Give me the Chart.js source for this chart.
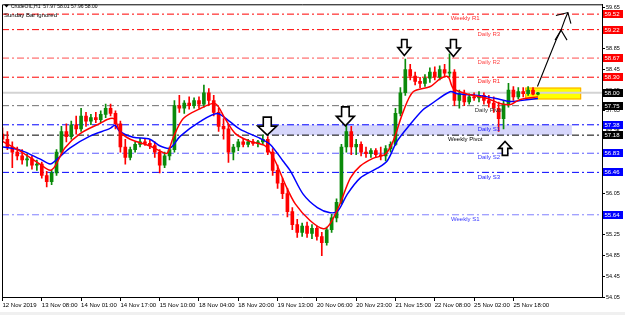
<!DOCTYPE html>
<html>
<head>
<meta charset="utf-8">
<script src="https://cdn.jsdelivr.net/npm/chart.js@4.4.1/dist/chart.umd.min.js"></script>
<style>
  html, body { margin: 0; padding: 0; background: #fff; }
  #wrap { width: 625px; height: 315px; }
</style>
</head>
<body>
<div id="wrap"><canvas id="chart" width="625" height="315"></canvas></div>
<script>
// header
const symbolName = 'CrudeOIL,H1';
const lastBar = [57.97, 58.01, 57.96, 58.00];
const chartNote = 'Sunday Bar ignored';

// candles (one per 2 hours)
const opens = [57.20,57.10,56.95,56.85,56.78,56.70,56.72,56.60,56.62,56.40,56.28,56.45,56.85,57.25,57.15,57.38,57.30,57.55,57.45,57.52,
  57.48,57.58,57.70,57.60,57.40,56.95,56.75,56.90,57.00,57.05,57.02,56.98,56.85,56.60,56.78,56.90,57.75,57.70,57.80,57.75,
  57.85,57.78,58.00,57.85,57.62,57.35,57.30,56.85,56.95,57.05,57.00,57.05,57.02,57.05,57.10,56.85,56.50,56.25,56.05,55.70,
  55.45,55.30,55.42,55.28,55.38,55.22,55.10,55.35,55.58,55.88,56.95,57.25,56.95,57.00,56.85,56.82,56.88,56.80,56.78,56.92,
  57.00,57.60,58.00,58.45,58.32,58.22,58.18,58.28,58.40,58.30,58.45,58.38,58.40,57.85,57.98,57.82,57.92,57.90,57.95,57.85,
  57.80,57.70,57.50,57.78,58.05,57.92,58.02,57.98,58.05,57.97];
const highs = [57.32,57.25,57.05,56.95,56.90,56.82,56.78,56.70,56.66,56.48,56.50,56.90,57.35,57.40,57.45,57.55,57.70,57.62,57.58,57.62,
  57.65,57.78,57.78,57.65,57.45,57.10,56.95,57.05,57.12,57.12,57.08,57.05,56.90,56.85,56.95,57.85,57.95,57.85,57.92,57.90,
  57.92,58.15,58.08,57.95,57.70,57.50,57.38,57.00,57.10,57.12,57.10,57.10,57.08,57.18,57.15,56.92,56.60,56.35,56.15,55.78,
  55.55,55.48,55.50,55.45,55.42,55.30,55.40,55.65,55.95,57.00,57.38,57.35,57.10,57.05,56.95,56.92,56.92,56.95,56.98,57.05,
  57.70,58.10,58.65,58.55,58.40,58.30,58.35,58.48,58.50,58.52,58.55,58.75,58.45,58.05,58.05,57.98,58.00,58.02,58.00,57.95,
  57.92,57.82,57.85,58.18,58.12,58.10,58.10,58.12,58.10,58.01];
const lows = [57.05,56.90,56.55,56.70,56.62,56.58,56.52,56.50,56.35,56.18,56.22,56.40,56.80,57.05,57.10,57.20,57.25,57.35,57.38,57.42,
  57.42,57.52,57.55,57.30,56.85,56.62,56.70,56.85,56.95,56.98,56.92,56.75,56.45,56.55,56.70,56.85,57.62,57.60,57.68,57.70,
  57.70,57.72,57.75,57.55,57.25,57.10,56.65,56.70,56.88,56.95,56.95,56.98,56.95,57.00,56.80,56.40,56.15,55.95,55.60,55.35,
  55.20,55.22,55.20,55.18,55.15,54.85,55.05,55.30,55.50,55.85,56.85,56.80,56.80,56.78,56.75,56.75,56.76,56.70,56.68,56.85,
  56.98,57.55,57.95,58.25,58.15,58.10,58.12,58.20,58.25,58.25,58.30,58.30,57.75,57.70,57.75,57.78,57.85,57.82,57.78,57.72,
  57.62,57.25,57.30,57.72,57.85,57.88,57.92,57.95,57.96,57.96];
const closes = [57.10,56.95,56.85,56.78,56.70,56.72,56.60,56.62,56.40,56.28,56.45,56.85,57.25,57.15,57.38,57.30,57.55,57.45,57.52,57.48,
  57.58,57.70,57.60,57.40,56.95,56.75,56.90,57.00,57.05,57.02,56.98,56.85,56.60,56.78,56.90,57.75,57.70,57.80,57.75,57.85,
  57.78,58.00,57.85,57.62,57.35,57.30,56.85,56.95,57.05,57.00,57.05,57.02,57.05,57.10,56.85,56.50,56.25,56.05,55.70,55.45,
  55.30,55.42,55.28,55.38,55.22,55.10,55.35,55.58,55.88,56.95,57.25,56.95,57.00,56.85,56.82,56.88,56.80,56.78,56.92,57.00,
  57.60,58.00,58.45,58.32,58.22,58.18,58.28,58.40,58.30,58.45,58.38,58.40,57.85,57.98,57.82,57.92,57.90,57.95,57.85,57.80,
  57.70,57.50,57.78,58.05,57.92,58.02,57.98,58.05,57.97,58.00];

// moving averages (position in candles, price)
const fastMaAt = [0,3.6,7.6,9.7,10.7,12.7,15.8,19.9,21.9,22.9,23.9,26,30,32.1,33.5,34.7,36.8,40.2,43.3,45.3,47.4,50.4,53.5,55.5,57.5,
  59.6,62.6,65.3,66.7,68.7,70.8,72.8,75.4,77.9,79.5,81.6,83.6,87.1,89.1,90.7,91.8,95.2,98.7,101.3,103.4,105.4,109];
const fastMa = [57.06,56.87,56.62,56.50,56.58,56.93,57.21,57.41,57.50,57.48,57.25,57.10,56.97,56.87,56.83,57.12,57.50,57.69,57.79,57.50,57.21,57.06,56.97,56.68,56.24,
  55.85,55.53,55.37,55.47,55.85,56.35,56.58,56.73,56.81,57.06,57.64,58.02,58.12,58.27,58.31,58.08,57.96,57.89,57.79,57.77,57.87,57.92];
const slowMaAt = [0,3.6,7.6,9.7,10.7,13.7,17.8,21.9,22.9,23.9,26.6,30,32.1,34.1,36.2,40.2,43.7,46.3,48.4,52.4,54.5,57.1,58.6,61.2,64.1,
  66.7,68.3,70.2,72.8,76.3,78.3,80.3,83,85.6,87.1,91.1,92.6,95.2,98.7,101.3,103.4,105.4,109];
const slowMa = [56.95,56.89,56.72,56.62,56.68,56.93,57.16,57.31,57.37,57.25,57.14,57.10,56.97,56.93,57.16,57.44,57.60,57.44,57.29,57.12,57.00,56.68,56.49,56.04,55.78,
  55.68,55.72,56.04,56.35,56.54,56.68,57.06,57.39,57.67,57.77,58.02,57.98,57.96,57.92,57.87,57.83,57.85,57.89];

// pivot levels
const levelNames = ['Weekly R1','Daily R3','Daily R2','Daily R1','Daily Pivot','Daily S1','Weekly Pivot','Daily S2','Daily S3','Weekly S1'];
const levelPrices = [59.52, 59.22, 58.67, 58.30, 57.75, 57.38, 57.18, 56.83, 56.46, 55.64];
const bidPrice = 58.00;

// axes
const timeLabels = ['12 Nov 2019','13 Nov 08:00','14 Nov 01:00','14 Nov 17:00','15 Nov 10:00','18 Nov 04:00','18 Nov 20:00',
  '19 Nov 13:00','20 Nov 06:00','20 Nov 23:00','21 Nov 15:00','22 Nov 08:00','25 Nov 02:00','25 Nov 18:00'];
const timeTickAt = [0,8,16,24,32,40,48,56,64,72,80,88,96,104];
const priceTicks = [54.05,54.45,54.85,55.25,55.65,56.05,56.45,56.85,57.25,57.65,58.05,58.45,58.85,59.25,59.65];

// drawn objects, in candle / price units
const zones = [
  { x0: 54.5, x1: 115.9, lo: 57.18, hi: 57.38, fill: '#d6d6fb', stroke: null },
  { x0: 106.4, x1: 117.8, lo: 57.87, hi: 58.10, fill: '#ffff00', stroke: '#ffa500' }
];
const arrows = [
  { x: 53.9, p: 57.18, dir: 1, w: 19, h: 18 },
  { x: 69.8, p: 57.36, dir: 1, w: 18, h: 19 },
  { x: 81.8, p: 58.72, dir: 1, w: 13, h: 16 },
  { x: 91.8, p: 58.70, dir: 1, w: 14, h: 17 },
  { x: 102.3, p: 57.06, dir: -1, w: 13, h: 14 }
];
const sketchX = [108.9, 111.3, 112.7, 113.7, 114.5, 115.1];
const sketchP = [58.12, 58.69, 59.02, 59.21, 59.42, 59.55];

const GREEN = '#0a8a0a';
const RED = '#ff0000';
const levelStyle = {
  'Weekly R1':   { line: '#ff0000', text: '#ff2a2a', box: '#ff0000', at: 94.2 },
  'Daily R3':    { line: '#ff0000', text: '#ff3b3b', box: '#ff0000', at: 99 },
  'Daily R2':    { line: '#ff5050', text: '#ff4a4a', box: '#ff0000', at: 99 },
  'Daily R1':    { line: '#ff0000', text: '#ff2a2a', box: '#ff0000', at: 99 },
  'Daily Pivot': { line: '#707070', text: '#333333', box: '#000000', at: 99 },
  'Daily S1':    { line: '#0000ff', text: '#1a1aff', box: '#0000ff', at: 99 },
  'Weekly Pivot':{ line: '#000000', text: '#000000', box: '#000000', at: 94.2 },
  'Daily S2':    { line: '#5a5aff', text: '#3a3aff', box: '#0000ff', at: 99 },
  'Daily S3':    { line: '#0000ff', text: '#1a1aff', box: '#0000ff', at: 99 },
  'Weekly S1':   { line: '#8080ff', text: '#3a3aff', box: '#0000ff', at: 94.2 }
};

const X_MIN = -0.1, X_MAX = 122.04;
const FONT = '"Liberation Sans", Arial, sans-serif';

function drawArrow(ctx, px, py, w, h, dir) {
  const sw = w * 0.42, hh = h * 0.5;
  ctx.beginPath();
  ctx.moveTo(px - sw / 2, py - dir * h);
  ctx.lineTo(px + sw / 2, py - dir * h);
  ctx.lineTo(px + sw / 2, py - dir * hh);
  ctx.lineTo(px + w / 2, py - dir * hh);
  ctx.lineTo(px, py);
  ctx.lineTo(px - w / 2, py - dir * hh);
  ctx.lineTo(px - sw / 2, py - dir * hh);
  ctx.closePath();
  ctx.fillStyle = '#fff';
  ctx.fill();
  ctx.lineWidth = 1.6;
  ctx.strokeStyle = '#000';
  ctx.stroke();
}

function chevron(ctx, x, y, a, b) {
  ctx.beginPath();
  ctx.moveTo(a[0], a[1]);
  ctx.lineTo(x, y);
  ctx.lineTo(b[0], b[1]);
  ctx.stroke();
}

const overlay = {
  id: 'overlay',
  beforeDraw(chart) {
    const ctx = chart.ctx;
    ctx.save();
    ctx.fillStyle = '#fff';
    ctx.fillRect(0, 0, chart.width, chart.height);
    ctx.fillStyle = '#f0f0f0';
    ctx.fillRect(0, 312, chart.width, 3);
    ctx.restore();
  },
  beforeDatasetsDraw(chart) {
    const ctx = chart.ctx, xs = chart.scales.x, ys = chart.scales.y;
    ctx.save();
    zones.forEach(z => {
      const x0 = xs.getPixelForValue(z.x0), x1 = xs.getPixelForValue(z.x1);
      const y0 = ys.getPixelForValue(z.hi), y1 = ys.getPixelForValue(z.lo);
      ctx.fillStyle = z.fill;
      ctx.fillRect(x0, y0, x1 - x0, y1 - y0);
      if (z.stroke) {
        ctx.strokeStyle = z.stroke;
        ctx.lineWidth = 1;
        ctx.strokeRect(x0 + 0.5, y0 + 0.5, x1 - x0 - 1, y1 - y0 - 1);
      }
    });
    ctx.restore();
  },
  afterDatasetsDraw(chart) {
    const ctx = chart.ctx, xs = chart.scales.x, ys = chart.scales.y;
    ctx.save();
    // level names
    ctx.font = '6px ' + FONT;
    ctx.textAlign = 'center';
    ctx.textBaseline = 'top';
    levelNames.forEach((n, i) => {
      const st = levelStyle[n];
      ctx.fillStyle = st.text;
      ctx.fillText(n, xs.getPixelForValue(st.at), ys.getPixelForValue(levelPrices[i]) + 1.5);
    });
    // arrows
    arrows.forEach(a => drawArrow(ctx, xs.getPixelForValue(a.x), ys.getPixelForValue(a.p), a.w, a.h, a.dir));
    // hand drawn line
    const pts = sketchX.map((x, i) => [xs.getPixelForValue(x), ys.getPixelForValue(sketchP[i])]);
    ctx.strokeStyle = '#000';
    ctx.lineWidth = 1.1;
    ctx.beginPath();
    pts.forEach((p, i) => i ? ctx.lineTo(p[0], p[1]) : ctx.moveTo(p[0], p[1]));
    ctx.stroke();
    const m = pts[3], t = pts[5];
    chevron(ctx, m[0], m[1], [m[0] - 6, m[1] + 10], [m[0] + 6, m[1] + 10]);
    chevron(ctx, t[0], t[1], [t[0] - 12, t[1] + 3], [t[0] + 3, t[1] + 11]);
    // header
    ctx.fillStyle = '#000';
    ctx.beginPath();
    ctx.moveTo(4, 4.5); ctx.lineTo(9, 4.5); ctx.lineTo(6.5, 7.5); ctx.closePath();
    ctx.fill();
    ctx.textAlign = 'left';
    ctx.textBaseline = 'middle';
    ctx.font = '5px ' + FONT;
    ctx.fillText(symbolName + '  ' + lastBar.map(v => v.toFixed(2)).join(' '), 11, 6.5);
    ctx.font = '6px ' + FONT;
    ctx.fillText(chartNote, 4, 15.5);
    ctx.restore();
  },
  afterDraw(chart) {
    const ctx = chart.ctx, ys = chart.scales.y, area = chart.chartArea;
    ctx.save();
    ctx.strokeStyle = '#000';
    ctx.lineWidth = 1;
    ctx.beginPath();
    ctx.moveTo(area.left + 0.5, area.bottom);
    ctx.lineTo(area.left + 0.5, area.top + 0.5);
    ctx.lineTo(area.right, area.top + 0.5);
    ctx.stroke();
    // price boxes on the axis
    ctx.font = '6px ' + FONT;
    ctx.textAlign = 'left';
    ctx.textBaseline = 'middle';
    const boxes = levelNames.map((n, i) => [levelPrices[i], levelStyle[n].box]);
    boxes.push([bidPrice, '#000000']);
    boxes.forEach(b => {
      const y = Math.round(ys.getPixelForValue(b[0]));
      ctx.fillStyle = b[1];
      ctx.fillRect(area.right + 1, y - 4, 20, 8);
      ctx.fillStyle = '#fff';
      ctx.fillText(b[0].toFixed(2), area.right + 2.5, y + 0.5);
    });
    ctx.restore();
  }
};

const levelSets = levelNames.map((n, i) => ({
  type: 'line',
  data: [{ x: X_MIN, y: levelPrices[i] }, { x: X_MAX, y: levelPrices[i] }],
  borderColor: levelStyle[n].line,
  borderWidth: 1,
  borderDash: [7, 3, 2, 3],
  pointRadius: 0,
  order: 20
}));

const bidSet = {
  type: 'line',
  data: [{ x: X_MIN, y: bidPrice }, { x: X_MAX, y: bidPrice }],
  borderColor: '#d3d3d3',
  borderWidth: 2,
  pointRadius: 0,
  order: 21
};

const candleColor = closes.map((c, i) => c >= opens[i] ? GREEN : RED);

const wickSet = {
  type: 'bar',
  data: closes.map((c, i) => ({ x: i, y: [lows[i], highs[i]] })),
  backgroundColor: candleColor,
  barThickness: 1,
  grouped: false,
  order: 6
};
const bodySet = {
  type: 'bar',
  data: closes.map((c, i) => ({ x: i, y: [opens[i], c] })),
  backgroundColor: candleColor,
  barThickness: 3,
  minBarLength: 1,
  grouped: false,
  order: 5
};

const fastSet = {
  type: 'line',
  data: fastMaAt.map((x, i) => ({ x, y: fastMa[i] })),
  borderColor: '#ff0000',
  borderWidth: 1.5,
  pointRadius: 0,
  tension: 0.3,
  order: 1
};
const slowSet = {
  type: 'line',
  data: slowMaAt.map((x, i) => ({ x, y: slowMa[i] })),
  borderColor: '#0000ff',
  borderWidth: 1.5,
  pointRadius: 0,
  tension: 0.3,
  order: 2
};

Chart.defaults.font.family = FONT;
Chart.defaults.color = '#000';

new Chart(document.getElementById('chart').getContext('2d'), {
  type: 'bar',
  data: { datasets: [bidSet, ...levelSets, wickSet, bodySet, slowSet, fastSet] },
  options: {
    responsive: false,
    animation: false,
    devicePixelRatio: 1,
    layout: { padding: { left: 2, top: 2, right: 0, bottom: 0 } },
    plugins: { legend: { display: false }, tooltip: { enabled: false } },
    scales: {
      x: {
        type: 'linear',
        min: X_MIN,
        max: X_MAX,
        offset: false,
        grid: { offset: false, drawOnChartArea: false, drawTicks: true, tickLength: 4, color: '#000' },
        border: { display: true, color: '#000', width: 1 },
        ticks: {
          align: 'start',
          autoSkip: false,
          maxRotation: 0,
          padding: 1,
          font: { size: 6 },
          color: '#000',
          callback: v => timeLabels[timeTickAt.indexOf(v)] || ''
        },
        afterBuildTicks: s => { s.ticks = timeTickAt.map(v => ({ value: v })); },
        afterFit: s => { s.height = 18; }
      },
      y: {
        type: 'linear',
        position: 'right',
        min: 54.05,
        max: 59.71,
        beginAtZero: false,
        grid: { drawOnChartArea: false, drawTicks: true, tickLength: 3, color: '#000' },
        border: { display: true, color: '#000', width: 1 },
        ticks: {
          padding: 1,
          font: { size: 5.5 },
          color: '#000',
          callback: v => v.toFixed(2)
        },
        afterBuildTicks: s => { s.ticks = priceTicks.map(v => ({ value: v })); },
        afterFit: s => { s.width = 23; }
      }
    }
  },
  plugins: [overlay]
});
</script>
</body>
</html>
